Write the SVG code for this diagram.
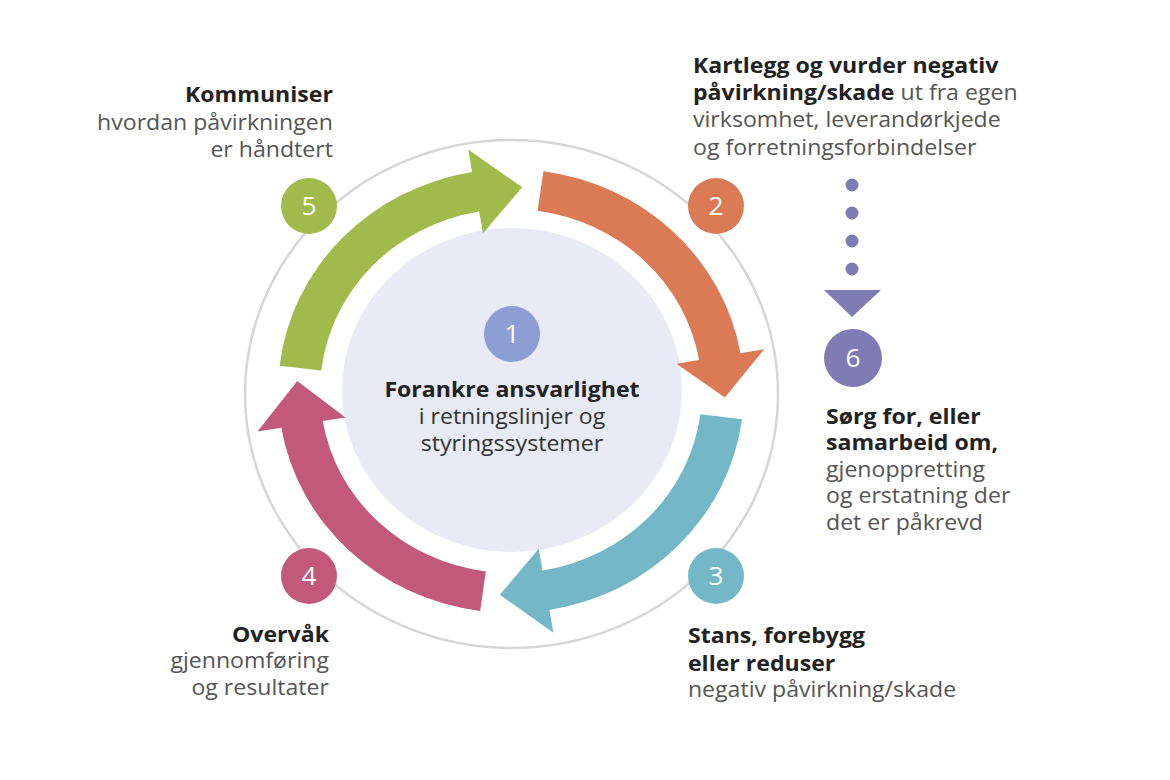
<svg xmlns="http://www.w3.org/2000/svg" width="1170" height="780" viewBox="0 0 1170 780">
<style>
.b{font-family:"Open Sans","Liberation Sans",sans-serif;font-weight:700;font-size:22px;fill:#222}
.r{font-family:"Open Sans","Liberation Sans",sans-serif;font-weight:400;font-size:22px;fill:#555}
.n{font-family:"Open Sans","Liberation Sans",sans-serif;font-weight:400;font-size:25px;fill:#fff;text-anchor:middle}
.e{text-anchor:end}
.m{text-anchor:middle}
</style>
<rect width="1170" height="780" fill="#fff"/>
<ellipse id="ring" cx="511.5" cy="394" rx="266.5" ry="254" fill="none" stroke="#d6d6d6" stroke-width="2.5"/>
<g id="center">
<ellipse cx="512" cy="390" rx="170" ry="162" fill="#e8eaf5"/>
<circle cx="512" cy="334" r="28" fill="#8c9ed3"/>
<g transform="scale(1.05,1)">
<text class="n" x="487.6" y="343">1</text>
<text class="b m" x="487.6" y="397">Forankre ansvarlighet</text>
<text class="r m" x="487.6" y="424" style="fill:#333">i retningslinjer og</text>
<text class="r m" x="487.6" y="451" style="fill:#333">styringssystemer</text>
</g>
</g>
<g id="connectors" transform="translate(511,391) scale(1.049,1)">
<path id="arrow-green" fill="#a0ba4b" d="M -220.57 -25.13 A 222 222 0 0 1 -37.02 -218.89 L -40.86 -241.57 L 10.68 -203.72 L -26.68 -157.76 L -30.35 -179.45 A 182 182 0 0 0 -180.83 -20.60 Z"/>
<path id="arrow-orange" fill="#db7b56" d="M 30.90 -219.84 A 222 222 0 0 1 218.76 -37.79 L 241.43 -41.70 L 203.90 6.41 L 157.67 -27.23 L 179.34 -30.98 A 182 182 0 0 0 25.33 -180.23 Z"/>
<path id="arrow-teal" fill="#74b8c7" d="M 220.20 28.21 A 222 222 0 0 1 36.64 218.96 L 40.44 241.64 L -10.68 203.72 L 26.41 157.81 L 30.04 179.50 A 182 182 0 0 0 180.52 23.13 Z"/>
<path id="arrow-magenta" fill="#c2587a" d="M -29.36 220.05 A 222 222 0 0 1 -218.96 36.64 L -241.64 40.44 L -203.76 -9.97 L -157.81 26.41 L -179.50 30.04 A 182 182 0 0 0 -24.07 180.40 Z"/>
</g>
<g id="connector-6" fill="#7f7bb5">
<circle cx="852" cy="185" r="6.5"/>
<circle cx="852" cy="213" r="6.5"/>
<circle cx="852" cy="241" r="6.5"/>
<circle cx="852" cy="269" r="6.5"/>
<path d="M 824 290 L 881 290 L 852 317 Z"/>
</g>
<g id="step5">
<circle cx="309" cy="206" r="28" fill="#a0ba4b"/>
<g transform="scale(1.05,1)">
<text class="n" x="294.3" y="215">5</text>
<text class="b e" x="317.1" y="102">Kommuniser</text>
<text class="r e" x="317.1" y="130">hvordan påvirkningen</text>
<text class="r e" x="317.1" y="157">er håndtert</text>
</g>
</g>
<g id="step2">
<circle cx="716" cy="206" r="28" fill="#db7b56"/>
<g transform="scale(1.05,1)">
<text class="n" x="681.9" y="215">2</text>
<text class="b" x="660" y="73">Kartlegg og vurder negativ</text>
<text x="660" y="100"><tspan class="b">påvirkning/skade</tspan><tspan class="r"> ut fra egen</tspan></text>
<text class="r" x="660" y="127">virksomhet, leverandørkjede</text>
<text class="r" x="660" y="155">og forretningsforbindelser</text>
</g>
</g>
<g id="step6">
<circle cx="853" cy="358" r="29" fill="#7f7bb5"/>
<g transform="scale(1.05,1)">
<text class="n" x="812.4" y="367">6</text>
<text class="b" x="786.7" y="424">Sørg for, eller</text>
<text class="b" x="786.7" y="450">samarbeid om,</text>
<text class="r" x="786.7" y="477">gjenoppretting</text>
<text class="r" x="786.7" y="503">og erstatning der</text>
<text class="r" x="786.7" y="530">det er påkrevd</text>
</g>
</g>
<g id="step3">
<circle cx="716" cy="576" r="28" fill="#74b8c7"/>
<g transform="scale(1.05,1)">
<text class="n" x="681.9" y="585">3</text>
<text class="b" x="655.2" y="643">Stans, forebygg</text>
<text class="b" x="655.2" y="671">eller reduser</text>
<text class="r" x="655.2" y="697">negativ påvirkning/skade</text>
</g>
</g>
<g id="step4">
<circle cx="309" cy="576" r="28" fill="#c2587a"/>
<g transform="scale(1.05,1)">
<text class="n" x="294.3" y="585">4</text>
<text class="b e" x="313.3" y="642">Overvåk</text>
<text class="r e" x="313.3" y="668">gjennomføring</text>
<text class="r e" x="313.3" y="695">og resultater</text>
</g>
</g>
</svg>
